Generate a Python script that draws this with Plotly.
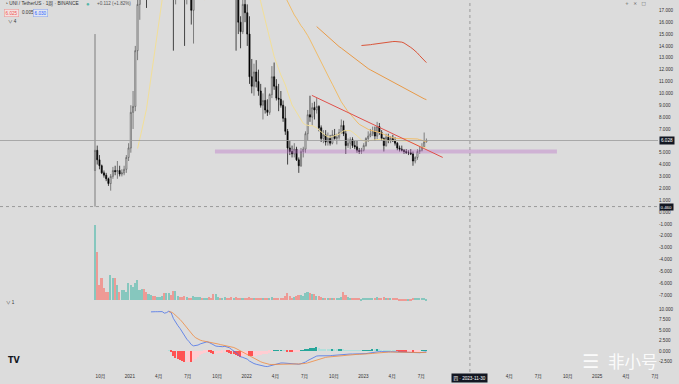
import pandas as pd
import numpy as np
import plotly.graph_objects as go

# ---------------- data (weekly UNI/USDT, Binance) ----------------
first_week = "2020-09-14"
opens = [3.5, 5.2, 4.4, 3.9, 3.3, 3.1, 2.8, 2.4, 3.0, 3.5, 3.4, 3.5, 3.2, 3.3, 3.6, 4.6,
         5.4, 8.4, 8.9, 13.6, 17.5, 19.4, 22.6, 21.5, 20.2, 29.5, 31.5, 29.0, 28.5, 30.5, 31.0, 34.0,
         30.0, 36.5, 41.0, 34.5, 21.5, 24.5, 25.5, 25.0, 21.0, 18.5, 20.5, 20.0, 17.0, 20.5, 24.5, 25.5,
         28.0, 27.0, 27.5, 30.0, 25.5, 24.0, 21.5, 24.5, 25.0, 24.5, 26.0, 27.0, 24.5, 23.5, 20.5, 21.0,
         18.0, 16.0, 15.2, 17.5, 16.8, 15.0, 11.4, 10.6, 11.8, 11.0, 10.2, 9.0, 9.4, 8.6, 8.4, 9.9,
         11.4, 10.6, 9.6, 9.5, 9.0, 7.9, 6.8, 5.4, 5.1, 4.9, 5.3, 4.4, 3.9, 5.1, 5.3, 6.6,
         8.2, 8.0, 8.8, 8.6, 8.9, 7.1, 6.2, 6.5, 5.9, 6.2, 5.8, 6.5, 6.2, 6.3, 6.7, 7.3,
         6.6, 5.6, 5.8, 6.1, 5.6, 5.5, 5.2, 5.1, 5.2, 5.6, 6.2, 6.4, 6.6, 6.8, 6.4, 7.2,
         6.7, 6.2, 5.6, 6.3, 6.0, 6.2, 6.0, 5.8, 5.4, 5.3, 5.2, 5.1, 5.0, 5.0, 4.9, 4.3,
         4.6, 5.1, 5.2, 5.5, 5.916]
highs = [15.0, 5.6, 4.8, 4.0, 3.5, 3.3, 2.9, 3.2, 3.8, 3.9, 4.3, 3.9, 3.6, 3.9, 4.8, 5.8,
         9.0, 10.2, 14.0, 18.5, 21.5, 23.8, 24.5, 23.5, 30.5, 33.0, 35.0, 31.0, 32.0, 32.5, 39.0, 36.0,
         37.0, 45.0, 44.0, 37.5, 27.0, 30.0, 28.5, 27.5, 22.5, 22.0, 23.0, 21.0, 21.5, 25.5, 26.5, 29.0,
         30.0, 29.5, 31.5, 31.0, 27.5, 24.5, 25.5, 27.0, 26.5, 27.0, 30.0, 28.0, 27.5, 24.0, 23.0, 24.5,
         19.5, 16.5, 18.5, 20.0, 17.5, 16.5, 12.9, 12.5, 12.8, 12.0, 10.8, 10.0, 10.5, 9.5, 10.0, 12.3,
         12.6, 11.2, 10.8, 10.2, 9.4, 8.9, 7.0, 6.0, 5.6, 5.8, 5.5, 4.6, 5.4, 5.5, 6.8, 8.6,
         9.8, 9.2, 9.3, 9.6, 9.0, 7.3, 6.9, 6.9, 6.7, 6.5, 6.9, 7.0, 6.6, 7.0, 7.8, 7.7,
         6.9, 6.2, 6.3, 6.3, 6.0, 6.0, 5.4, 5.4, 5.8, 6.3, 6.8, 7.0, 7.2, 7.2, 7.6, 7.5,
         6.9, 6.3, 6.6, 6.6, 6.4, 6.5, 6.3, 5.9, 5.6, 5.6, 5.3, 5.3, 5.2, 5.3, 5.1, 4.7,
         5.3, 5.5, 5.8, 6.7, 6.2]
lows = [0.45, 4.0, 3.6, 3.2, 2.9, 2.6, 2.2, 1.8, 2.8, 3.1, 2.8, 3.0, 3.0, 3.1, 3.3, 4.3,
        5.0, 7.0, 8.5, 12.8, 16.2, 18.0, 20.0, 17.2, 19.5, 27.0, 28.0, 25.5, 27.0, 28.5, 29.0, 26.0,
        29.0, 35.0, 30.0, 13.6, 17.5, 22.0, 21.5, 20.0, 14.0, 17.5, 19.0, 15.8, 14.2, 20.0, 22.0, 24.5,
        25.0, 25.5, 26.0, 22.0, 23.0, 19.0, 20.0, 23.5, 23.0, 23.5, 23.5, 23.0, 23.0, 19.5, 18.5, 13.6,
        15.0, 13.8, 15.0, 16.0, 14.0, 10.8, 10.0, 9.8, 10.5, 9.8, 8.8, 7.8, 8.3, 8.1, 8.2, 9.6,
        10.3, 9.4, 8.5, 8.8, 7.6, 6.5, 4.0, 4.8, 4.6, 4.6, 4.3, 3.3, 3.8, 4.6, 5.0, 6.0,
        7.6, 7.3, 7.8, 8.3, 6.8, 5.9, 5.8, 5.6, 5.6, 5.6, 5.7, 6.1, 5.7, 6.1, 6.6, 6.4,
        4.9, 5.4, 5.3, 5.4, 5.3, 5.0, 4.9, 4.9, 5.1, 5.5, 5.9, 6.3, 6.4, 6.0, 6.1, 6.5,
        6.0, 5.1, 5.5, 5.8, 5.8, 5.9, 5.6, 5.2, 5.1, 5.1, 4.9, 4.9, 4.8, 4.8, 3.9, 4.1,
        4.4, 4.9, 5.1, 5.4, 5.85]
closes = [5.2, 4.4, 3.9, 3.3, 3.1, 2.8, 2.4, 3.0, 3.5, 3.4, 3.5, 3.2, 3.3, 3.6, 4.6, 5.4,
          8.4, 8.9, 13.6, 17.5, 19.4, 22.6, 21.5, 20.2, 29.5, 31.5, 29.0, 28.5, 30.5, 31.0, 34.0, 30.0,
          36.5, 41.0, 34.5, 21.5, 24.5, 25.5, 25.0, 21.0, 18.5, 20.5, 20.0, 17.0, 20.5, 24.5, 25.5, 28.0,
          27.0, 27.5, 30.0, 25.5, 24.0, 21.5, 24.5, 25.0, 24.5, 26.0, 27.0, 24.5, 23.5, 20.5, 21.0, 18.0,
          16.0, 15.2, 17.5, 16.8, 15.0, 11.4, 10.6, 11.8, 11.0, 10.2, 9.0, 9.4, 8.6, 8.4, 9.9, 11.4,
          10.6, 9.6, 9.5, 9.0, 7.9, 6.8, 5.4, 5.1, 4.9, 5.3, 4.4, 3.9, 5.1, 5.3, 6.6, 8.2,
          8.0, 8.8, 8.6, 8.9, 7.1, 6.2, 6.5, 5.9, 6.2, 5.8, 6.5, 6.2, 6.3, 6.7, 7.3, 6.6,
          5.6, 5.8, 6.1, 5.6, 5.5, 5.2, 5.1, 5.2, 5.6, 6.2, 6.4, 6.6, 6.8, 6.4, 7.2, 6.7,
          6.2, 5.6, 6.3, 6.0, 6.2, 6.0, 5.8, 5.4, 5.3, 5.2, 5.1, 5.0, 5.0, 4.9, 4.3, 4.6,
          5.1, 5.2, 5.5, 5.916, 6.028]
volumes = [150, 96, 30, 44, 24, 16, 16, 50, 44, 44, 30, 16, 20, 20, 16, 34, 30, 26, 34, 40, 20, 22, 22, 16,
           12, 10, 8, 8, 6, 6, 8, 14, 14, 14, 10, 18, 18,
           8, 6, 6, 8, 6, 5, 5, 8, 6, 6, 6, 5, 5, 5, 6, 5,
           12, 12, 6, 5, 5, 6, 5, 5, 6, 5, 6, 5, 5, 5, 4, 4,
           6, 5, 5, 4, 4, 4, 4, 4, 4, 5, 6, 5,
           4, 4, 4, 5, 8, 14, 8, 5, 6, 8,
           10, 10, 8, 14, 16, 14, 12, 12,
           8, 8, 6, 5, 5, 5, 5, 5, 4, 5, 5, 6,
           16, 10, 6, 5, 5, 4, 4, 4,
           3, 4, 5, 5, 4, 5, 4, 6, 5, 4, 6, 5,
           4, 4, 4, 4, 4, 3, 3, 3, 3, 3, 3, 4, 5, 4, 4, 4, 5, 3]

# moving averages: (kind, period, colour)
ma_specs = [("sma", 20, "#f2df98"), ("sma", 50, "#f0bd6a"), ("ema", 100, "#e89a48"), ("sma", 120, "#d9553a")]

# drawings
support_level = 5.1
support_dates = ["2021-09-24", "2024-08-28"]
trend_dates = ["2022-07-24", "2023-09-06"]
trend_prices = [9.83, 4.6]
crosshair_date = "2023-11-30"
crosshair_price = 0.46
last_change = "+0.112 (+1.82%)"
quote_boxes = ["6.025", "0.005", "6.030"]

# time-axis labels (the two under the crosshair date box are hidden, as in the screenshot)
x_tick_dates = ["2020-10-01", "2021-01-01", "2021-04-01", "2021-07-01", "2021-10-01",
                "2022-01-01", "2022-04-01", "2022-07-01", "2022-10-01", "2023-01-01",
                "2023-04-01", "2023-07-01", "2024-04-01",
                "2024-07-01", "2024-10-01", "2025-01-01", "2025-04-01", "2025-07-01"]
x_tick_text = ["10月", "2021", "4月", "7月", "10月", "2022", "4月", "7月", "10月", "2023",
               "4月", "7月", "4月", "7月", "10月", "2025", "4月", "7月"]
price_ticks = [v for v in range(-7, 18) if v != 6]   # 6.000 sits under the last-price box
macd_ticks = [10, 7.5, 5, 2.5, 0, -2.5]


# ---------------- derived (TradingView-style indicators) ----------------
def ema_tv(values, n):
    """EMA seeded with the SMA of the first n valid values (as Pine's ta.ema)."""
    vals = np.asarray(values, dtype=float)
    out = np.full(len(vals), np.nan)
    valid = np.where(~np.isnan(vals))[0]
    if len(valid) < n:
        return out
    start = valid[0] + n - 1
    out[start] = np.mean(vals[valid[0]:start + 1])
    a = 2.0 / (n + 1)
    for i in range(start + 1, len(vals)):
        out[i] = a * vals[i] + (1 - a) * out[i - 1]
    return out


dates = pd.date_range(first_week, periods=len(closes), freq="7D")
close_s = pd.Series(closes, dtype=float)
o = np.array(opens, dtype=float)
c = np.array(closes, dtype=float)

macd = ema_tv(c, 12) - ema_tv(c, 26)
signal = ema_tv(macd, 9)
hist = macd - signal

hist_colors = []
for i, h in enumerate(hist):
    prev = hist[i - 1] if i > 0 else np.nan
    if np.isnan(h):
        hist_colors.append("rgba(0,0,0,0)")
    elif h >= 0:
        hist_colors.append("#26a69a" if (not np.isnan(prev) and prev < h) else "#b2dfdb")
    else:
        hist_colors.append("#ffcdd2" if (not np.isnan(prev) and prev < h) else "#ff5252")

vol_colors = ["#86c7be" if c[i] >= o[i] else "#ee9a95" for i in range(len(c))]

FONT = "Liberation Sans, Noto Sans CJK SC, sans-serif"
BG = "#dcdcdc"
week_ms = 7 * 24 * 3600 * 1000

fig = go.Figure()

fig.add_trace(go.Bar(x=dates, y=volumes, marker=dict(color=vol_colors, line=dict(width=0)),
                     width=0.72 * week_ms, yaxis="y3", xaxis="x", hoverinfo="skip"))

for kind, n, col in ma_specs:
    ma = close_s.rolling(n).mean().values if kind == "sma" else ema_tv(c, n)
    fig.add_trace(go.Scatter(x=dates, y=ma, mode="lines",
                             line=dict(color=col, width=1), yaxis="y", xaxis="x",
                             hoverinfo="skip"))

fig.add_trace(go.Candlestick(x=dates, open=opens, high=highs, low=lows, close=closes,
                             increasing=dict(line=dict(color="#555555", width=0.7), fillcolor="#ffffff"),
                             decreasing=dict(line=dict(color="#000000", width=0.7), fillcolor="#000000"),
                             whiskerwidth=0, yaxis="y", xaxis="x"))

fig.add_trace(go.Bar(x=dates, y=hist, marker=dict(color=hist_colors, line=dict(width=0)),
                     width=0.72 * week_ms, yaxis="y2", xaxis="x", hoverinfo="skip"))
fig.add_trace(go.Scatter(x=dates, y=macd, mode="lines", line=dict(color="#4a72e8", width=0.8),
                         yaxis="y2", xaxis="x", hoverinfo="skip"))
fig.add_trace(go.Scatter(x=dates, y=signal, mode="lines", line=dict(color="#f08a40", width=0.8),
                         yaxis="y2", xaxis="x", hoverinfo="skip"))

axis_font = dict(family=FONT, size=4.6, color="#333333")

fig.update_layout(
    width=679, height=384, margin=dict(l=0, r=21, t=0, b=12),
    paper_bgcolor=BG, plot_bgcolor=BG, showlegend=False,
    font=dict(family=FONT),
    xaxis=dict(type="date", range=["2019-11-22", "2025-07-10"], domain=[0, 1], anchor="y2",
               tickvals=x_tick_dates, ticktext=x_tick_text, tickfont=axis_font,
               showgrid=False, zeroline=False, showline=False, ticks="",
               rangeslider=dict(visible=False)),
    yaxis=dict(domain=[0.188, 1], range=[-7.59, 17.87], side="right", anchor="x",
               tickvals=price_ticks, ticktext=[f"{v:.3f}" for v in price_ticks],
               tickfont=axis_font, showgrid=False, zeroline=False, showline=False, ticks=""),
    yaxis2=dict(domain=[0, 0.188], range=[-5, 11.67], side="right", anchor="x",
                tickvals=macd_ticks, ticktext=[f"{v:.3f}" for v in macd_ticks],
                tickfont=axis_font, showgrid=False, zeroline=False, showline=False, ticks=""),
    yaxis3=dict(overlaying="y", range=[-4, 600], visible=False),
    bargap=0,
)

shapes = [
    dict(type="line", xref="paper", x0=0, x1=1, yref="y", y0=closes[-1], y1=closes[-1],
         line=dict(color="#9a9a9a", width=0.8)),
    dict(type="line", xref="paper", x0=0, x1=1, yref="y", y0=crosshair_price, y1=crosshair_price,
         line=dict(color="#8a8a8a", width=0.8, dash="dot")),
    dict(type="line", xref="x", x0=crosshair_date, x1=crosshair_date, yref="paper", y0=0, y1=1,
         line=dict(color="#8a8a8a", width=0.8, dash="dot")),
    dict(type="line", xref="x", x0=support_dates[0], x1=support_dates[1], yref="y",
         y0=support_level, y1=support_level, line=dict(color="rgba(186,104,200,0.36)", width=4)),
    dict(type="line", xref="x", x0=trend_dates[0], x1=trend_dates[1], yref="y",
         y0=trend_prices[0], y1=trend_prices[1], line=dict(color="#e0504a", width=1)),
]
fig.update_layout(shapes=shapes)

small = dict(family=FONT, size=4.8, color="#333333")
ann = [
    dict(xref="paper", yref="paper", x=0.004, y=1 - 4 / 372, xanchor="left", yanchor="middle",
         text="◔ UNI / TetherUS · 1周 · BINANCE", showarrow=False, font=small),
    dict(xref="paper", yref="paper", x=88 / 658, y=1 - 4 / 372, xanchor="center", yanchor="middle",
         text="●", showarrow=False, font=dict(family=FONT, size=6, color="#52b6a8")),
    dict(xref="paper", yref="paper", x=95 / 658, y=1 - 4 / 372, xanchor="left", yanchor="middle",
         text=last_change, showarrow=False, font=dict(family=FONT, size=4.6, color="#555555")),
    dict(xref="paper", yref="paper", x=4 / 658, y=1 - 13 / 372, xanchor="left", yanchor="middle",
         text=quote_boxes[0], showarrow=False, font=dict(family=FONT, size=4.6, color="#ef5350"),
         bordercolor="#ef9a9a", borderwidth=0.6, borderpad=1, bgcolor="#f3e1e1"),
    dict(xref="paper", yref="paper", x=20 / 658, y=1 - 13 / 372, xanchor="left", yanchor="middle",
         text=quote_boxes[1], showarrow=False, font=dict(family=FONT, size=4.6, color="#333333")),
    dict(xref="paper", yref="paper", x=33 / 658, y=1 - 13 / 372, xanchor="left", yanchor="middle",
         text=quote_boxes[2], showarrow=False, font=dict(family=FONT, size=4.6, color="#2962ff"),
         bordercolor="#90a8f0", borderwidth=0.6, borderpad=1, bgcolor="#e2e6f0"),
    dict(xref="paper", yref="paper", x=6 / 658, y=1 - 22 / 372, xanchor="left", yanchor="middle",
         text="∨ 4", showarrow=False, font=dict(family=FONT, size=4.6, color="#333333")),
    dict(xref="paper", yref="paper", x=4 / 658, y=70 / 372, xanchor="left", yanchor="middle",
         text="∨ 1", showarrow=False, font=dict(family=FONT, size=4.6, color="#333333")),
    dict(xref="paper", yref="paper", x=648 / 658, y=1 - 4 / 372, xanchor="right", yanchor="middle",
         text="+   ×   □", showarrow=False, font=dict(family="DejaVu Sans", size=4.6, color="#555555")),
    dict(xref="paper", yref="y", x=1, y=closes[-1], xanchor="left", yanchor="middle", xshift=1,
         text=f"{closes[-1]:.3f}", showarrow=False, font=dict(family=FONT, size=4.6, color="#ffffff"),
         bgcolor="#131722", borderpad=1),
    dict(xref="paper", yref="y", x=1, y=crosshair_price, xanchor="left", yanchor="middle", xshift=1,
         text=f"{crosshair_price:.3f}", showarrow=False, font=dict(family=FONT, size=4.4, color="#ffffff"),
         bgcolor="#131722", borderpad=0.5),
    dict(xref="x", yref="paper", x=crosshair_date, y=-6 / 372, xanchor="center", yanchor="middle",
         text="四 · " + crosshair_date, showarrow=False, font=dict(family=FONT, size=4.6, color="#ffffff"),
         bgcolor="#131722", borderpad=1.5),
    dict(xref="paper", yref="paper", x=6 / 658, y=12 / 372, xanchor="left", yanchor="middle",
         text="<b>TV</b>", showarrow=False, font=dict(family="DejaVu Sans", size=8, color="#131722")),
    dict(xref="paper", yref="paper", x=590 / 658, y=11 / 372, xanchor="center", yanchor="middle",
         text="☰", showarrow=False, font=dict(family="DejaVu Sans", size=19, color="rgba(255,255,255,0.9)")),
    dict(xref="paper", yref="paper", x=633 / 658, y=11 / 372, xanchor="center", yanchor="middle",
         text="非小号", showarrow=False,
         font=dict(family="Noto Sans CJK SC", size=16.5, color="rgba(255,255,255,0.9)")),
]
fig.update_layout(annotations=ann)

fig.write_html("out.html")
